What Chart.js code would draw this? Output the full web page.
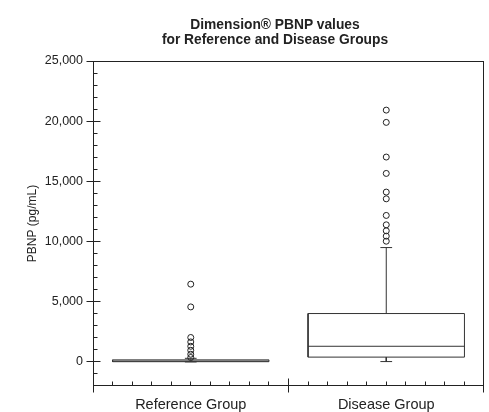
<!DOCTYPE html>
<html>
<head>
<meta charset="utf-8">
<script src="https://cdn.jsdelivr.net/npm/chart.js@4/dist/chart.umd.min.js"></script>
<style>
  html, body { margin: 0; padding: 0; background: #fff; }
  #wrap { position: relative; width: 489px; height: 412px; }
  #boxChart { display: block; }
  #title {
    position: absolute; left: 61px; width: 428px; top: 17px;
    text-align: center; color: #222; line-height: 18px;
    font: bold 13.8px "Liberation Sans", Arial, sans-serif;
  }
</style>
</head>
<body>
<div id="wrap">
  <canvas id="boxChart" width="489" height="412"></canvas>
  <div id="title">Dimension® PBNP values<br>for Reference and Disease Groups</div>
</div>
<script>
// Datos del box plot
const groups = ['Reference Group', 'Disease Group'];
const whiskerLow = [0, 30];
const q1 = [20, 400];
const median = [70, 1300];
const q3 = [170, 4020];
const whiskerHigh = [300, 9500];
const outliersReference = [370, 640, 970, 1300, 1660, 2030, 4570, 6460];
const outliersDisease = [10030, 10450, 10890, 11390, 12170, 13550, 14110, 15660, 17020, 19900, 20920];
const yTicks = [0, 5000, 10000, 15000, 20000, 25000];
const yMin = -2000;
const yMax = 25000;

const textColor = '#222';
const lineColor = '#333';
Chart.defaults.font.family = '"Liberation Sans", Arial, sans-serif';

// Segmentos de la caja y bigotes como datasets de lineas
function segment(points) {
  return {
    type: 'scatter',
    data: points,
    showLine: true,
    borderColor: lineColor,
    borderWidth: 1,
    pointRadius: 0,
    fill: false,
  };
}

const boxHalf = 0.4;
const capHalf = 0.03;
const datasets = [];

groups.forEach((g, i) => {
  const c = i + 0.5;
  // caja
  datasets.push(segment([
    {x: c - boxHalf, y: q1[i]}, {x: c + boxHalf, y: q1[i]},
    {x: c + boxHalf, y: q3[i]}, {x: c - boxHalf, y: q3[i]},
    {x: c - boxHalf, y: q1[i]},
  ]));
  // mediana
  datasets.push(segment([{x: c - boxHalf, y: median[i]}, {x: c + boxHalf, y: median[i]}]));
  // bigotes
  datasets.push(segment([{x: c, y: q3[i]}, {x: c, y: whiskerHigh[i]}]));
  datasets.push(segment([{x: c, y: q1[i]}, {x: c, y: whiskerLow[i]}]));
  datasets.push(segment([{x: c - capHalf, y: whiskerHigh[i]}, {x: c + capHalf, y: whiskerHigh[i]}]));
  datasets.push(segment([{x: c - capHalf, y: whiskerLow[i]}, {x: c + capHalf, y: whiskerLow[i]}]));
});

// Valores atipicos
[outliersReference, outliersDisease].forEach((vals, i) => {
  datasets.unshift({
    type: 'scatter',
    data: vals.map((v) => ({x: i + 0.5, y: v})),
    pointStyle: 'circle',
    pointRadius: 3,
    borderWidth: 1,
    borderColor: textColor,
    backgroundColor: 'rgba(0,0,0,0)',
  });
});

// Marco y marcas de los ejes
const axisFrame = {
  id: 'axisFrame',
  afterDraw(chart) {
    const {ctx, chartArea: a, scales: {x, y}} = chart;
    const L = Math.floor(a.left) + 0.5;
    const R = Math.floor(a.right - 0.5) + 0.5;
    const T = Math.floor(a.top) + 0.5;
    const B = Math.floor(a.bottom - 0.5) + 0.5;
    ctx.save();
    ctx.strokeStyle = textColor;
    ctx.lineWidth = 1;
    ctx.strokeRect(L, T, R - L, B - T);
    ctx.beginPath();
    for (let v = yMin + 1000; v <= yMax; v += 1000) {
      const py = Math.floor(y.getPixelForValue(v)) + 0.5;
      if (v % 5000 === 0) {
        ctx.moveTo(L - 7, py); ctx.lineTo(L + 7, py);
      } else {
        ctx.moveTo(L, py); ctx.lineTo(L + 4, py);
      }
    }
    for (let k = 0; k <= 20; k++) {
      const px = Math.min(Math.floor(x.getPixelForValue(k / 10)) + 0.5, R);
      if (k % 10 === 0) {
        ctx.moveTo(px, B - 7); ctx.lineTo(px, B + 7);
      } else {
        ctx.moveTo(px, B - 4); ctx.lineTo(px, B);
      }
    }
    ctx.stroke();
    ctx.restore();
  },
};

new Chart(document.getElementById('boxChart'), {
  type: 'scatter',
  data: {datasets: datasets},
  plugins: [axisFrame],
  options: {
    responsive: false,
    animation: false,
    layout: {padding: {top: 61, right: 1, bottom: 0, left: 0}},
    plugins: {legend: {display: false}, tooltip: {enabled: false}},
    scales: {
      x: {
        type: 'linear',
        min: 0,
        max: 2,
        grid: {display: false, drawTicks: false},
        border: {display: false},
        afterBuildTicks: (s) => { s.ticks = groups.map((g, i) => ({value: i + 0.5})); },
        afterFit: (s) => { s.height = 26; },
        ticks: {
          padding: 10,
          color: textColor,
          font: {size: 14.5},
          autoSkip: false,
          maxRotation: 0,
          callback: (v, i) => groups[i],
        },
      },
      y: {
        min: yMin,
        max: yMax,
        grid: {display: false, drawTicks: false},
        border: {display: false},
        afterBuildTicks: (s) => { s.ticks = yTicks.map((v) => ({value: v})); },
        afterFit: (s) => { s.width = 93; },
        ticks: {
          padding: 10,
          color: textColor,
          font: {size: 12.5},
          callback: (v) => v.toLocaleString('en-US'),
        },
        title: {
          display: true,
          text: 'PBNP (pg/mL)',
          color: textColor,
          font: {size: 12},
          padding: {top: 25, bottom: 0},
        },
      },
    },
  },
});
</script>
</body>
</html>
